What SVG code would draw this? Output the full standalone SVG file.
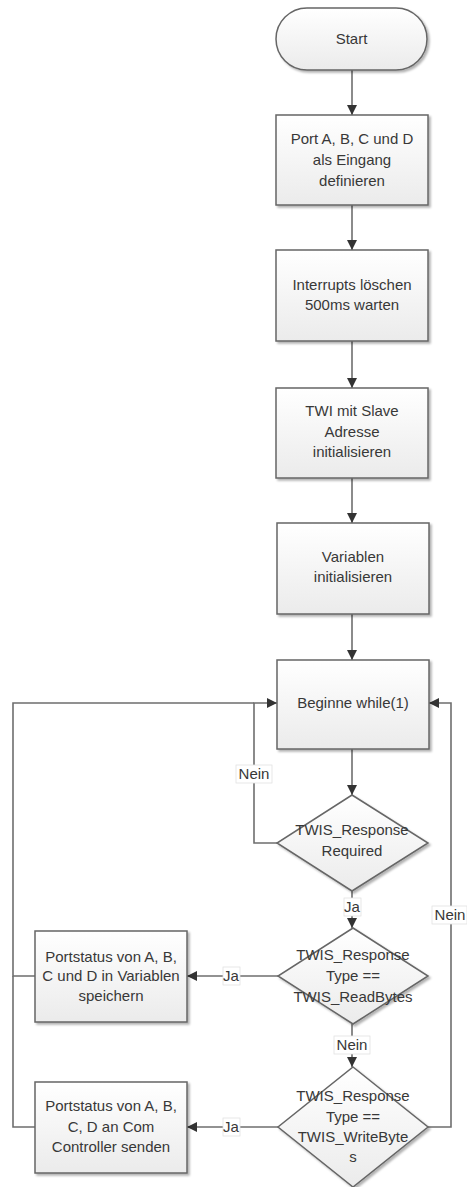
<svg xmlns="http://www.w3.org/2000/svg" width="467" height="1187" viewBox="0 0 467 1187">
  <defs>
    <linearGradient id="fillGrad" x1="0" y1="0" x2="0" y2="1">
      <stop offset="0" stop-color="#ffffff"/>
      <stop offset="1" stop-color="#ebebeb"/>
    </linearGradient>
    <filter id="shadow" x="-10%" y="-10%" width="125%" height="130%">
      <feDropShadow dx="2" dy="2" stdDeviation="1.2" flood-color="#000" flood-opacity="0.3"/>
    </filter>
    <marker id="arrow" viewBox="0 0 10 10" refX="10" refY="5" markerWidth="10" markerHeight="10" markerUnits="userSpaceOnUse" orient="auto">
      <path d="M0,0 L10,5 L0,10 z" fill="#333"/>
    </marker>
  </defs>
  <style>
    .shape { fill: url(#fillGrad); stroke: #666; stroke-width: 1.5; filter: url(#shadow); }
    .txt { font-family: "Liberation Sans", Arial, sans-serif; font-size: 15px; fill: #383838; text-anchor: middle; }
    .conn { fill: none; stroke: #6e6e6e; stroke-width: 1.6; }
    .lblbg { fill: #fff; stroke: #e2e2e2; stroke-width: 0.8; }
  </style>
  <rect width="467" height="1187" fill="#fff"/>

  <!-- connectors -->
  <g id="connectors">
    <path class="conn" d="M352,70 V115" marker-end="url(#arrow)"/>
    <path class="conn" d="M352,205 V250" marker-end="url(#arrow)"/>
    <path class="conn" d="M352,341 V388" marker-end="url(#arrow)"/>
    <path class="conn" d="M352,478 V523" marker-end="url(#arrow)"/>
    <path class="conn" d="M352,614 V660" marker-end="url(#arrow)"/>
    <path class="conn" d="M352,749 V795" marker-end="url(#arrow)"/>
    <!-- Required: Nein loops back -->
    <path class="conn" d="M277,843 H254 V703 H277" marker-end="url(#arrow)"/>
    <!-- Required: Ja -->
    <path class="conn" d="M352,891 V928" marker-end="url(#arrow)"/>
    <!-- ReadBytes: Ja -->
    <path class="conn" d="M278,976 H187" marker-end="url(#arrow)"/>
    <!-- ReadBytes: Nein -->
    <path class="conn" d="M352,1024 V1067" marker-end="url(#arrow)"/>
    <!-- WriteBytes: Ja -->
    <path class="conn" d="M278,1127 H187" marker-end="url(#arrow)"/>
    <!-- WriteBytes: Nein loops back on the right -->
    <path class="conn" d="M428,1127 H451 V703 H429" marker-end="url(#arrow)"/>
    <!-- both action boxes return to the loop start -->
    <path class="conn" d="M35,976 H13 V703 H254"/>
    <path class="conn" d="M35,1127 H13 V976"/>

    <!-- connector labels -->
    <g id="labels">
      <rect class="lblbg" x="236" y="765" width="36" height="18"/>
      <text class="txt" x="254" y="779">Nein</text>
      <rect class="lblbg" x="344" y="898" width="17" height="18"/>
      <text class="txt" x="352" y="912">Ja</text>
      <rect class="lblbg" x="223" y="967" width="17" height="18"/>
      <text class="txt" x="231" y="981">Ja</text>
      <rect class="lblbg" x="334" y="1036" width="36" height="18"/>
      <text class="txt" x="352" y="1050">Nein</text>
      <rect class="lblbg" x="223" y="1118" width="17" height="18"/>
      <text class="txt" x="231" y="1132">Ja</text>
      <rect class="lblbg" x="432" y="906" width="35" height="18"/>
      <text class="txt" x="450" y="920">Nein</text>
    </g>
  </g>

  <g id="start">
    <rect class="shape" x="276" y="8" width="151" height="62" rx="31" ry="31"/>
    <text class="txt" x="351.5" y="44">Start</text>
  </g>

  <g id="ports-input">
    <rect class="shape" x="276" y="115" width="152" height="90"/>
    <text class="txt" x="352" y="144">Port A, B, C und D</text>
    <text class="txt" x="352" y="165">als Eingang</text>
    <text class="txt" x="352" y="186">definieren</text>
  </g>

  <g id="interrupts">
    <rect class="shape" x="276" y="250" width="152" height="91"/>
    <text class="txt" x="352" y="290">Interrupts löschen</text>
    <text class="txt" x="352" y="310">500ms warten</text>
  </g>

  <g id="twi-init">
    <rect class="shape" x="276" y="388" width="152" height="90"/>
    <text class="txt" x="352" y="416">TWI mit Slave</text>
    <text class="txt" x="352" y="437">Adresse</text>
    <text class="txt" x="352" y="457">initialisieren</text>
  </g>

  <g id="vars-init">
    <rect class="shape" x="277" y="523" width="152" height="91"/>
    <text class="txt" x="353" y="562">Variablen</text>
    <text class="txt" x="353" y="582">initialisieren</text>
  </g>

  <g id="while-loop">
    <rect class="shape" x="277" y="660" width="152" height="89"/>
    <text class="txt" x="353" y="708">Beginne while(1)</text>
  </g>

  <g id="response-required">
    <polygon class="shape" points="352,795 428,843 352,891 277,843"/>
    <text class="txt" x="352" y="835">TWIS_Response</text>
    <text class="txt" x="352" y="856">Required</text>
  </g>

  <g id="readbytes-check">
    <polygon class="shape" points="353,928 428,976 353,1024 278,976"/>
    <text class="txt" x="353" y="960">TWIS_Response</text>
    <text class="txt" x="353" y="981">Type ==</text>
    <text class="txt" x="353" y="1002">TWIS_ReadBytes</text>
  </g>

  <g id="writebytes-check">
    <polygon class="shape" points="353,1067 428,1127 353,1187 278,1127"/>
    <text class="txt" x="353" y="1101">TWIS_Response</text>
    <text class="txt" x="353" y="1122">Type ==</text>
    <text class="txt" x="353" y="1142">TWIS_WriteByte</text>
    <text class="txt" x="353" y="1162">s</text>
  </g>

  <g id="store-status">
    <rect class="shape" x="35" y="931" width="152" height="91"/>
    <text class="txt" x="111" y="962">Portstatus von A, B,</text>
    <text class="txt" x="111" y="981">C und D in Variablen</text>
    <text class="txt" x="111" y="1001">speichern</text>
  </g>

  <g id="send-status">
    <rect class="shape" x="35" y="1082" width="152" height="91"/>
    <text class="txt" x="111" y="1111">Portstatus von A, B,</text>
    <text class="txt" x="111" y="1132">C, D an Com</text>
    <text class="txt" x="111" y="1152">Controller senden</text>
  </g>
</svg>
